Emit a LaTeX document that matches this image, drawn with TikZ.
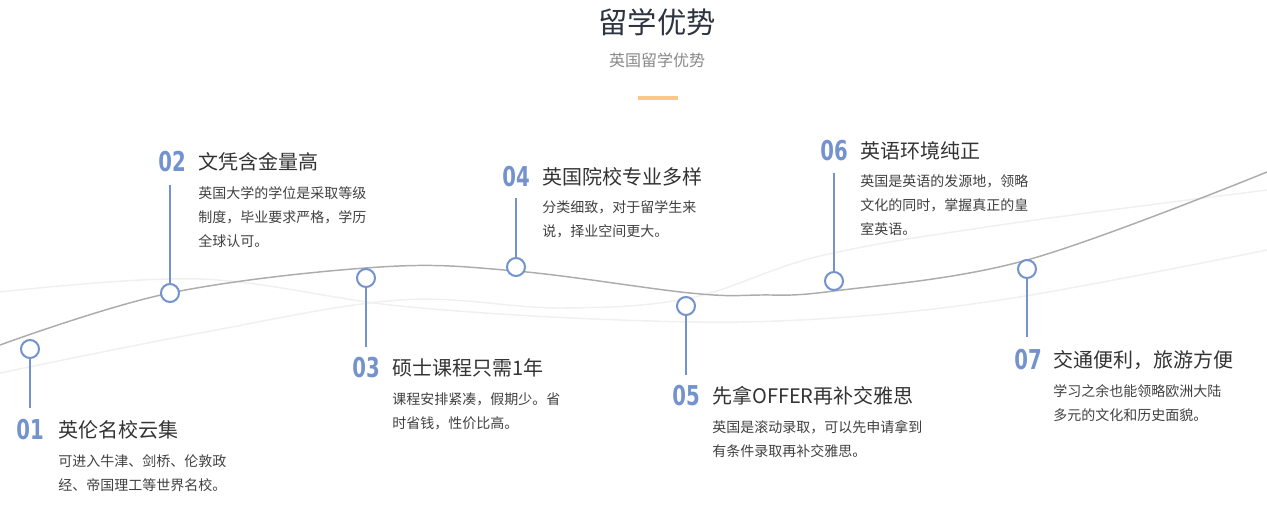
\documentclass[tikz,border=0pt]{standalone}
\usepackage{fontspec}
\usepackage{xcolor}
\usepackage{tikz}
\usetikzlibrary{positioning}
\setmainfont{Noto Sans CJK SC}
\newfontfamily\digitfont{DejaVu Sans}
\definecolor{stepblue}{RGB}{115,146,206}
\definecolor{wavegray}{RGB}{172,172,172}
\definecolor{wavefaint}{RGB}{240,240,240}
\definecolor{headtext}{RGB}{45,52,64}
\definecolor{subtext}{RGB}{136,136,136}
\definecolor{titletext}{RGB}{51,51,51}
\definecolor{desctext}{RGB}{64,64,64}
\definecolor{accentbar}{RGB}{252,199,135}
\tikzset{
  dot/.style={circle,draw=stepblue,line width=1.5pt,fill=white,minimum size=13.5pt,inner sep=0pt},
  stem/.style={draw=stepblue,line width=0.9pt},
  num/.style={font=\digitfont\bfseries\fontsize{20.5pt}{20.5pt}\selectfont,text=stepblue,
    xscale=0.72,inner sep=0pt},
  ttl/.style={font=\fontsize{15pt}{15pt}\selectfont,text=titletext,anchor=west,inner sep=0pt},
  desc/.style={font=\fontsize{10.5pt}{18pt}\selectfont,text=desctext,align=left,
    anchor=north west,inner sep=0pt},
  wave/.style={draw=wavegray,line width=1.1pt},
  faint/.style={draw=wavefaint,line width=1.1pt}
}
\begin{document}
\begin{tikzpicture}[x=0.75pt,y=-0.75pt]
  \useasboundingbox (0,0) rectangle (1267,515);

  % heading
  \node[font=\fontsize{22pt}{22pt}\selectfont,text=headtext,inner sep=0pt] (head) at (657,22) {留学优势};
  \node[font=\fontsize{12pt}{12pt}\selectfont,text=subtext,inner sep=0pt] (subhead) at (657,60) {英国留学优势};
  \node[fill=accentbar,minimum width=30pt,minimum height=3pt,inner sep=0pt] (bar) at (658,97.5) {};

  % background waves
  \draw[faint] plot[smooth,tension=0.6] coordinates {(0,292) (200,279) (400,306) (620,320) (800,320) (1000,300) (1267,250)};
  \draw[faint] plot[smooth,tension=0.6] coordinates {(0,373) (200,333) (400,300) (560,308) (690,298) (820,256) (1000,225) (1267,190)};
  \draw[wave] plot[smooth,tension=0.6] coordinates {(0,345) (170,293) (380,267) (516,271) (690,293) (760,295) (834,291) (1027,260) (1267,172)};

  % stems
  \coordinate (e1) at (30,408);
  \coordinate (e2) at (170,185);
  \coordinate (e3) at (366,347);
  \coordinate (e4) at (516,198);
  \coordinate (e5) at (686,375);
  \coordinate (e6) at (834,173);
  \coordinate (e7) at (1027,337);

  \node[dot] (c1) at (30,349) {};
  \node[dot] (c2) at (170,293) {};
  \node[dot] (c3) at (366,278) {};
  \node[dot] (c4) at (516,267) {};
  \node[dot] (c5) at (686,306) {};
  \node[dot] (c6) at (834,281) {};
  \node[dot] (c7) at (1027,269) {};

  \draw[stem] (c1) -- (e1);
  \draw[stem] (c2) -- (e2);
  \draw[stem] (c3) -- (e3);
  \draw[stem] (c4) -- (e4);
  \draw[stem] (c5) -- (e5);
  \draw[stem] (c6) -- (e6);
  \draw[stem] (c7) -- (e7);

  % 01
  \node[num] (n1) at (30,430) {01};
  \node[ttl] (t1) at (58,430) {英伦名校云集};
  \node[desc] (d1) at (58,454) {可进入牛津、剑桥、伦敦政\\经、帝国理工等世界名校。};
  % 02
  \node[num] (n2) at (172,162) {02};
  \node[ttl] (t2) at (198,162) {文凭含金量高};
  \node[desc] (d2) at (198,186) {英国大学的学位是采取等级\\制度，毕业要求严格，学历\\全球认可。};
  % 03
  \node[num] (n3) at (366,368) {03};
  \node[ttl] (t3) at (392,368) {硕士课程只需1年};
  \node[desc] (d3) at (392,392) {课程安排紧凑，假期少。省\\时省钱，性价比高。};
  % 04
  \node[num] (n4) at (516,177) {04};
  \node[ttl] (t4) at (542,177) {英国院校专业多样};
  \node[desc] (d4) at (542,200) {分类细致，对于留学生来\\说，择业空间更大。};
  % 05
  \node[num] (n5) at (686,396) {05};
  \node[ttl] (t5) at (712,396) {先拿OFFER再补交雅思};
  \node[desc] (d5) at (712,420) {英国是滚动录取，可以先申请拿到\\有条件录取再补交雅思。};
  % 06
  \node[num] (n6) at (834,151) {06};
  \node[ttl] (t6) at (860,151) {英语环境纯正};
  \node[desc] (d6) at (860,174) {英国是英语的发源地，领略\\文化的同时，掌握真正的皇\\室英语。};
  % 07
  \node[num] (n7) at (1028,360) {07};
  \node[ttl] (t7) at (1053,360) {交通便利，旅游方便};
  \node[desc] (d7) at (1053,384) {学习之余也能领略欧洲大陆\\多元的文化和历史面貌。};
\end{tikzpicture}
\end{document}
